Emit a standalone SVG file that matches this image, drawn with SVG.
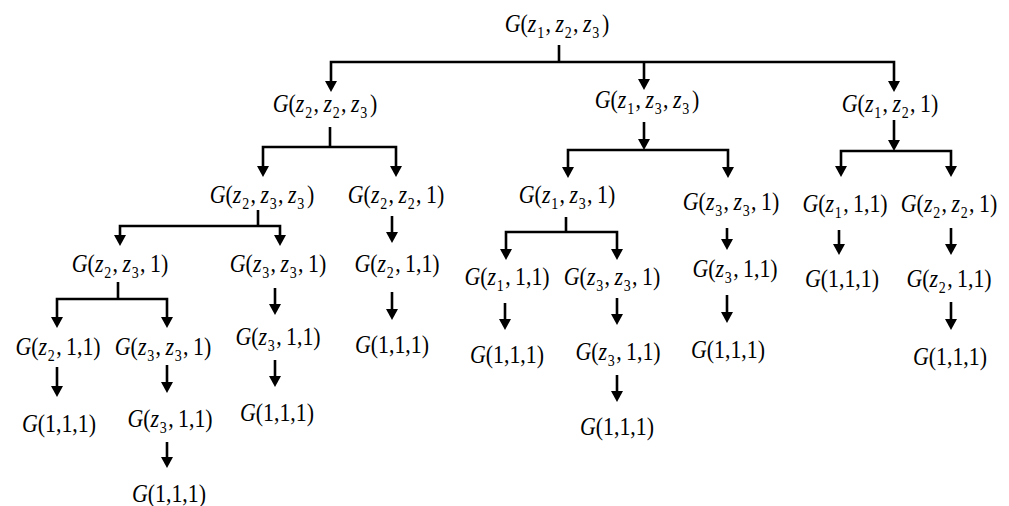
<svg xmlns="http://www.w3.org/2000/svg" width="1009" height="506" viewBox="0 0 1009 506">
<style>
.t{font-family:"Liberation Serif","Times New Roman",serif;font-size:25px;text-anchor:middle;fill:#000}
.i{font-style:italic}
.s{font-size:16px;font-style:normal}
.c path{stroke:#000;stroke-width:2.6;fill:none;stroke-linejoin:miter}
.a{marker-end:url(#ah)}
.b{marker-start:url(#ah);marker-end:url(#ah)}
</style>
<defs>
<marker id="ah" markerUnits="userSpaceOnUse" markerWidth="11" markerHeight="12" viewBox="0 0 11 12" refX="3" refY="6" orient="auto-start-reverse"><path d="M0,0 L11,6 L0,12 Z" fill="#000"/></marker>
</defs>
<rect width="1009" height="506" fill="#fff"/>
<g class="c" id="connectors">
<path d="M559,45 V62"/>
<path class="b" d="M331,84 V62 H894 V84"/>
<path class="a" d="M644,62 V82"/>
<path d="M330,127 V147"/>
<path class="b" d="M263,169 V147 H396 V169"/>
<path class="a" d="M644,122 V142"/>
<path class="b" d="M568,170 V150 H728 V170"/>
<path class="a" d="M894,120 V143"/>
<path class="b" d="M841,169 V151 H951 V169"/>
<path d="M258,210 V226"/>
<path class="b" d="M120,238 V226 H280 V238"/>
<path class="a" d="M392,216 V235"/>
<path d="M118,282 V299"/>
<path class="b" d="M57,320 V299 H167 V320"/>
<path class="a" d="M275,288 V307"/>
<path class="a" d="M392,292 V312"/>
<path class="a" d="M57,367 V389"/>
<path class="a" d="M167,365 V385"/>
<path class="a" d="M275,360 V379"/>
<path class="a" d="M167,442 V460"/>
<path d="M566,217 V232"/>
<path class="b" d="M506,252 V232 H617 V252"/>
<path class="a" d="M727,228 V242"/>
<path class="a" d="M839,230 V247"/>
<path class="a" d="M951,228 V247"/>
<path class="a" d="M505,303 V322"/>
<path class="a" d="M617,298 V317"/>
<path class="a" d="M727,295 V315"/>
<path class="a" d="M951,302 V322"/>
<path class="a" d="M617,375 V394"/>
</g>
<g id="n-root"><text class="t" transform="translate(557,32) scale(0.875,1)"><tspan class="i">G</tspan>(<tspan class="i">z</tspan><tspan class="s" dx="1" dy="6">1</tspan><tspan dx="1.5" dy="-6">,</tspan><tspan class="i" dx="5">z</tspan><tspan class="s" dx="1" dy="6">2</tspan><tspan dx="1.5" dy="-6">,</tspan><tspan class="i" dx="5">z</tspan><tspan class="s" dx="1" dy="6">3</tspan><tspan dx="3" dy="-6">)</tspan></text></g>
<g id="n-a"><text class="t" transform="translate(325,112) scale(0.875,1)"><tspan class="i">G</tspan>(<tspan class="i">z</tspan><tspan class="s" dx="1" dy="6">2</tspan><tspan dx="1.5" dy="-6">,</tspan><tspan class="i" dx="5">z</tspan><tspan class="s" dx="1" dy="6">2</tspan><tspan dx="1.5" dy="-6">,</tspan><tspan class="i" dx="5">z</tspan><tspan class="s" dx="1" dy="6">3</tspan><tspan dx="3" dy="-6">)</tspan></text></g>
<g id="n-b"><text class="t" transform="translate(647,108) scale(0.875,1)"><tspan class="i">G</tspan>(<tspan class="i">z</tspan><tspan class="s" dx="1" dy="6">1</tspan><tspan dx="1.5" dy="-6">,</tspan><tspan class="i" dx="5">z</tspan><tspan class="s" dx="1" dy="6">3</tspan><tspan dx="1.5" dy="-6">,</tspan><tspan class="i" dx="5">z</tspan><tspan class="s" dx="1" dy="6">3</tspan><tspan dx="3" dy="-6">)</tspan></text></g>
<g id="n-c"><text class="t" transform="translate(890,112) scale(0.875,1)"><tspan class="i">G</tspan>(<tspan class="i">z</tspan><tspan class="s" dx="1" dy="6">1</tspan><tspan dx="1.5" dy="-6">,</tspan><tspan class="i" dx="5">z</tspan><tspan class="s" dx="1" dy="6">2</tspan><tspan dx="1.5" dy="-6">,</tspan><tspan dx="5">1)</tspan></text></g>
<g id="n-a1"><text class="t" transform="translate(262,203) scale(0.875,1)"><tspan class="i">G</tspan>(<tspan class="i">z</tspan><tspan class="s" dx="1" dy="6">2</tspan><tspan dx="1.5" dy="-6">,</tspan><tspan class="i" dx="5">z</tspan><tspan class="s" dx="1" dy="6">3</tspan><tspan dx="1.5" dy="-6">,</tspan><tspan class="i" dx="5">z</tspan><tspan class="s" dx="1" dy="6">3</tspan><tspan dx="3" dy="-6">)</tspan></text></g>
<g id="n-a2"><text class="t" transform="translate(396,203) scale(0.875,1)"><tspan class="i">G</tspan>(<tspan class="i">z</tspan><tspan class="s" dx="1" dy="6">2</tspan><tspan dx="1.5" dy="-6">,</tspan><tspan class="i" dx="5">z</tspan><tspan class="s" dx="1" dy="6">2</tspan><tspan dx="1.5" dy="-6">,</tspan><tspan dx="5">1)</tspan></text></g>
<g id="n-b1"><text class="t" transform="translate(567,203) scale(0.875,1)"><tspan class="i">G</tspan>(<tspan class="i">z</tspan><tspan class="s" dx="1" dy="6">1</tspan><tspan dx="1.5" dy="-6">,</tspan><tspan class="i" dx="5">z</tspan><tspan class="s" dx="1" dy="6">3</tspan><tspan dx="1.5" dy="-6">,</tspan><tspan dx="5">1)</tspan></text></g>
<g id="n-b2"><text class="t" transform="translate(731,210) scale(0.875,1)"><tspan class="i">G</tspan>(<tspan class="i">z</tspan><tspan class="s" dx="1" dy="6">3</tspan><tspan dx="1.5" dy="-6">,</tspan><tspan class="i" dx="5">z</tspan><tspan class="s" dx="1" dy="6">3</tspan><tspan dx="1.5" dy="-6">,</tspan><tspan dx="5">1)</tspan></text></g>
<g id="n-c1"><text class="t" transform="translate(845,212) scale(0.875,1)"><tspan class="i">G</tspan>(<tspan class="i">z</tspan><tspan class="s" dx="1" dy="6">1</tspan><tspan dx="1.5" dy="-6">,</tspan><tspan dx="5">1,1)</tspan></text></g>
<g id="n-c2"><text class="t" transform="translate(949,212) scale(0.875,1)"><tspan class="i">G</tspan>(<tspan class="i">z</tspan><tspan class="s" dx="1" dy="6">2</tspan><tspan dx="1.5" dy="-6">,</tspan><tspan class="i" dx="5">z</tspan><tspan class="s" dx="1" dy="6">2</tspan><tspan dx="1.5" dy="-6">,</tspan><tspan dx="5">1)</tspan></text></g>
<g id="n-a1a"><text class="t" transform="translate(120,272) scale(0.875,1)"><tspan class="i">G</tspan>(<tspan class="i">z</tspan><tspan class="s" dx="1" dy="6">2</tspan><tspan dx="1.5" dy="-6">,</tspan><tspan class="i" dx="5">z</tspan><tspan class="s" dx="1" dy="6">3</tspan><tspan dx="1.5" dy="-6">,</tspan><tspan dx="5">1)</tspan></text></g>
<g id="n-a1b"><text class="t" transform="translate(278,272) scale(0.875,1)"><tspan class="i">G</tspan>(<tspan class="i">z</tspan><tspan class="s" dx="1" dy="6">3</tspan><tspan dx="1.5" dy="-6">,</tspan><tspan class="i" dx="5">z</tspan><tspan class="s" dx="1" dy="6">3</tspan><tspan dx="1.5" dy="-6">,</tspan><tspan dx="5">1)</tspan></text></g>
<g id="n-a2a"><text class="t" transform="translate(397,272) scale(0.875,1)"><tspan class="i">G</tspan>(<tspan class="i">z</tspan><tspan class="s" dx="1" dy="6">2</tspan><tspan dx="1.5" dy="-6">,</tspan><tspan dx="5">1,1)</tspan></text></g>
<g id="n-b1a"><text class="t" transform="translate(507,285) scale(0.875,1)"><tspan class="i">G</tspan>(<tspan class="i">z</tspan><tspan class="s" dx="1" dy="6">1</tspan><tspan dx="1.5" dy="-6">,</tspan><tspan dx="5">1,1)</tspan></text></g>
<g id="n-b1b"><text class="t" transform="translate(612,285) scale(0.875,1)"><tspan class="i">G</tspan>(<tspan class="i">z</tspan><tspan class="s" dx="1" dy="6">3</tspan><tspan dx="1.5" dy="-6">,</tspan><tspan class="i" dx="5">z</tspan><tspan class="s" dx="1" dy="6">3</tspan><tspan dx="1.5" dy="-6">,</tspan><tspan dx="5">1)</tspan></text></g>
<g id="n-b2a"><text class="t" transform="translate(735,277) scale(0.875,1)"><tspan class="i">G</tspan>(<tspan class="i">z</tspan><tspan class="s" dx="1" dy="6">3</tspan><tspan dx="1.5" dy="-6">,</tspan><tspan dx="5">1,1)</tspan></text></g>
<g id="n-c1a"><text class="t" transform="translate(842,287) scale(0.875,1)"><tspan class="i">G</tspan>(1,1,1)</text></g>
<g id="n-c2a"><text class="t" transform="translate(949,287) scale(0.875,1)"><tspan class="i">G</tspan>(<tspan class="i">z</tspan><tspan class="s" dx="1" dy="6">2</tspan><tspan dx="1.5" dy="-6">,</tspan><tspan dx="5">1,1)</tspan></text></g>
<g id="n-a1a1"><text class="t" transform="translate(58,355) scale(0.875,1)"><tspan class="i">G</tspan>(<tspan class="i">z</tspan><tspan class="s" dx="1" dy="6">2</tspan><tspan dx="1.5" dy="-6">,</tspan><tspan dx="5">1,1)</tspan></text></g>
<g id="n-a1a2"><text class="t" transform="translate(163,355) scale(0.875,1)"><tspan class="i">G</tspan>(<tspan class="i">z</tspan><tspan class="s" dx="1" dy="6">3</tspan><tspan dx="1.5" dy="-6">,</tspan><tspan class="i" dx="5">z</tspan><tspan class="s" dx="1" dy="6">3</tspan><tspan dx="1.5" dy="-6">,</tspan><tspan dx="5">1)</tspan></text></g>
<g id="n-a1b1"><text class="t" transform="translate(278,345) scale(0.875,1)"><tspan class="i">G</tspan>(<tspan class="i">z</tspan><tspan class="s" dx="1" dy="6">3</tspan><tspan dx="1.5" dy="-6">,</tspan><tspan dx="5">1,1)</tspan></text></g>
<g id="n-a2a1"><text class="t" transform="translate(392,353) scale(0.875,1)"><tspan class="i">G</tspan>(1,1,1)</text></g>
<g id="n-b1a1"><text class="t" transform="translate(507,363) scale(0.875,1)"><tspan class="i">G</tspan>(1,1,1)</text></g>
<g id="n-b1b1"><text class="t" transform="translate(618,360) scale(0.875,1)"><tspan class="i">G</tspan>(<tspan class="i">z</tspan><tspan class="s" dx="1" dy="6">3</tspan><tspan dx="1.5" dy="-6">,</tspan><tspan dx="5">1,1)</tspan></text></g>
<g id="n-b2a1"><text class="t" transform="translate(728,358) scale(0.875,1)"><tspan class="i">G</tspan>(1,1,1)</text></g>
<g id="n-c2a1"><text class="t" transform="translate(950,365) scale(0.875,1)"><tspan class="i">G</tspan>(1,1,1)</text></g>
<g id="n-a1a1a"><text class="t" transform="translate(59,432) scale(0.875,1)"><tspan class="i">G</tspan>(1,1,1)</text></g>
<g id="n-a1a2a"><text class="t" transform="translate(170,427) scale(0.875,1)"><tspan class="i">G</tspan>(<tspan class="i">z</tspan><tspan class="s" dx="1" dy="6">3</tspan><tspan dx="1.5" dy="-6">,</tspan><tspan dx="5">1,1)</tspan></text></g>
<g id="n-a1b1a"><text class="t" transform="translate(277,421) scale(0.875,1)"><tspan class="i">G</tspan>(1,1,1)</text></g>
<g id="n-b1b1a"><text class="t" transform="translate(617,435) scale(0.875,1)"><tspan class="i">G</tspan>(1,1,1)</text></g>
<g id="n-a1a2a1"><text class="t" transform="translate(169,502) scale(0.875,1)"><tspan class="i">G</tspan>(1,1,1)</text></g>
</svg>
